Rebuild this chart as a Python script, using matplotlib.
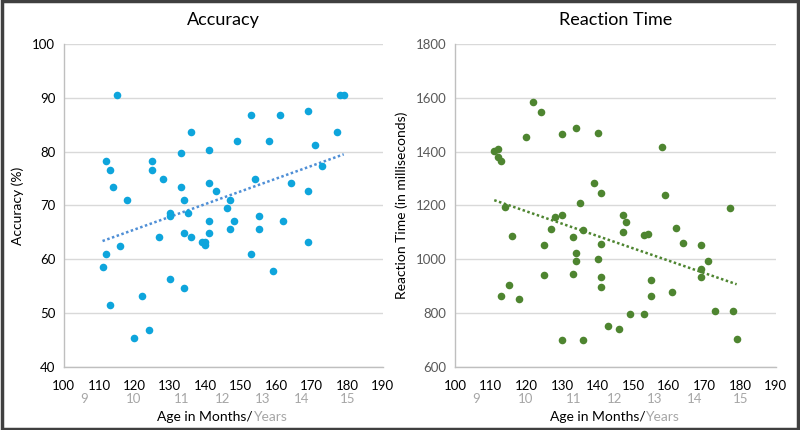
import matplotlib.pyplot as plt
import numpy as np
from matplotlib.patches import Rectangle

plt.rcParams['font.family'] = ['Lato', 'DejaVu Sans']

# accuracy data (age in months, accuracy %)
acc_age = [115, 136, 133, 141, 112, 113, 125, 125, 128, 114, 133, 141, 143, 118, 134,
           130, 130, 135, 141, 127, 134, 136, 141, 139, 140, 140, 116, 112, 111, 130,
           134, 122, 113, 124, 120, 147, 146, 148, 147, 153, 161, 169, 149, 158, 171,
           177, 178, 179, 173, 154, 164, 169, 155, 162, 155, 169, 153, 159]
acc_val = [90.5, 83.6, 79.7, 80.4, 78.2, 76.6, 78.2, 76.6, 75.0, 73.4, 73.4, 74.2, 72.6, 71.0, 71.0,
           68.6, 68.0, 68.6, 67.2, 64.1, 64.9, 64.1, 64.9, 63.3, 63.3, 62.6, 62.5, 60.9, 58.5, 56.3,
           54.7, 53.1, 51.5, 46.9, 45.3, 71.0, 69.5, 67.2, 65.7, 86.8, 86.8, 87.5, 82.0, 82.0, 81.2,
           83.6, 90.5, 90.5, 77.4, 75.0, 74.2, 72.6, 68.0, 67.2, 65.7, 63.3, 60.9, 57.9]

# reaction time data (age in months, ms)
rt_age = [122, 124, 120, 130, 134, 140, 111, 112, 112, 113, 139, 141, 135, 114, 128,
          130, 127, 136, 116, 125, 133, 141, 134, 134, 140, 125, 133, 141, 141, 115,
          113, 118, 130, 136, 158, 159, 147, 148, 147, 153, 154, 162, 164, 169, 171,
          169, 169, 177, 155, 155, 161, 149, 153, 173, 178, 179, 143, 146]
rt_val = [1585, 1549, 1456, 1467, 1487, 1470, 1403, 1411, 1382, 1364, 1285, 1248, 1211, 1195, 1159,
          1164, 1113, 1108, 1087, 1055, 1082, 1058, 1024, 992, 1002, 942, 945, 934, 899, 903,
          862, 852, 700, 700, 1419, 1238, 1166, 1139, 1102, 1092, 1095, 1117, 1061, 1055, 992,
          964, 936, 1192, 924, 862, 877, 797, 797, 809, 809, 705, 753, 740]

month_ticks = np.arange(100, 200, 10)
year_labels = ['9', '10', '11', '12', '13', '14', '15']
year_pos = [105.8, 119.8, 133.3, 144.7, 156.0, 167.2, 180.1]

fig = plt.figure(figsize=(8, 4.3), dpi=100)
fig.patches.append(Rectangle((0.002, 0.003), 0.996, 0.994, transform=fig.transFigure,
                             fill=False, edgecolor='#404040', linewidth=2.5))

ax1 = fig.add_axes([0.0794, 0.1465, 0.399, 0.7512])
ax2 = fig.add_axes([0.5688, 0.1465, 0.401, 0.7512])


def style(ax, ylim, yticks, title, ylabel, tick_col):
    ax.set_xlim(100, 190)
    ax.set_xticks(month_ticks)
    ax.set_ylim(*ylim)
    ax.set_yticks(yticks)
    ax.grid(axis='y', color='#d9d9d9', linewidth=1)
    ax.set_axisbelow(True)
    for s in ['top', 'right']:
        ax.spines[s].set_visible(False)
    for s in ['left', 'bottom']:
        ax.spines[s].set_color('#bfbfbf')
        ax.spines[s].set_linewidth(1)
    ax.tick_params(length=0, labelsize=9.5, pad=6)
    ax.tick_params(axis='x', labelcolor='black', pad=9.5)
    ax.tick_params(axis='y', labelcolor=tick_col)
    ax.set_title(title, fontsize=13, pad=14)
    ax.set_ylabel(ylabel, fontsize=10, labelpad=6)
    for lab, p in zip(year_labels, year_pos):
        ax.text(p, -0.099, lab, transform=ax.get_xaxis_transform(), ha='center',
                va='center', fontsize=9.5, color='#a6a6a6')
    t = ax.text(0.593, -0.155, 'Age in Months/', transform=ax.transAxes, ha='right',
                va='center', fontsize=10)
    ax.annotate('Years', xy=(1, 0), xycoords=t, va='bottom', ha='left',
                fontsize=10, color='#a6a6a6')


def trend(ax, x, y, color):
    k, b = np.polyfit(x, y, 1)
    xs = np.array([min(x), max(x)])
    ax.plot(xs, k * xs + b, linestyle=(0, (1, 1)), color=color, linewidth=1.8)


style(ax1, (40, 100), np.arange(40, 101, 10), 'Accuracy', 'Accuracy (%)', 'black')
ax1.scatter(acc_age, acc_val, s=30, color='#0ea5dc', zorder=3, linewidths=0)
trend(ax1, acc_age, acc_val, '#4f8fd6')

style(ax2, (600, 1800), np.arange(600, 1801, 200), 'Reaction Time',
      'Reaction Time (in milliseconds)', '#595959')
ax2.scatter(rt_age, rt_val, s=30, color='#4e8530', zorder=3, linewidths=0)
trend(ax2, rt_age, rt_val, '#4e8530')

fig.savefig('out.png', dpi=100)
